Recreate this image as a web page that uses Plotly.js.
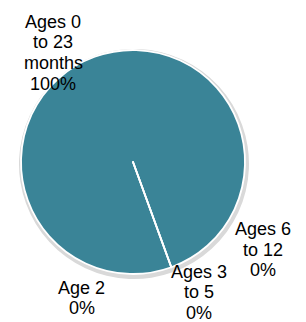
<!DOCTYPE html>
<html>
<head>
<meta charset="utf-8">
<script src="https://cdn.plot.ly/plotly-3.0.1.min.js"></script>
<style>html,body{margin:0;padding:0;background:#fff;}#chart{width:306px;height:322px;}</style>
</head>
<body>
<div id="chart"></div>
<script>
// Data
const categories = ['Ages 0 to 23 months', 'Age 2', 'Ages 3 to 5', 'Ages 6 to 12'];
const percentages = [100, 0, 0, 0];
const labelLines = [['Ages 0', 'to 23', 'months'], ['Age 2'], ['Ages 3', 'to 5'], ['Ages 6', 'to 12']];

// Layout (pixel positions of label blocks: x centre, first line centre)
const W = 306, H = 322;
const labelPos = [[53, 21.5], [81.7, 287.5], [199, 271.5], [262.5, 228.8]];
const lineStep = 20.8;
const teal = '#3A8497';

const annotations = [];
categories.forEach((c, i) => {
  const lines = labelLines[i].concat([percentages[i] + '%']);
  lines.forEach((t, k) => {
    annotations.push({
      xref: 'paper', yref: 'paper',
      x: labelPos[i][0] / W,
      y: 1 - (labelPos[i][1] + k * lineStep) / H,
      xanchor: 'center', yanchor: 'middle',
      text: t, showarrow: false,
      font: {family: 'Liberation Sans, Arial, sans-serif', size: 18, color: '#000'}
    });
  });
});

const shadow = {
  type: 'pie', labels: categories, values: percentages, sort: false,
  direction: 'clockwise', rotation: 160,
  marker: {colors: ['#d9d9d9', '#d9d9d9', '#d9d9d9', '#d9d9d9'], line: {width: 0}},
  textinfo: 'none', hoverinfo: 'skip', showlegend: false,
  domain: {x: [19 / W, 249 / W], y: [43 / H, 273 / H]}
};
const pie = {
  type: 'pie', labels: categories, values: percentages, sort: false,
  direction: 'clockwise', rotation: 160,
  marker: {colors: [teal, teal, teal, teal], line: {color: '#ffffff', width: 1.8}},
  textinfo: 'none', showlegend: false,
  domain: {x: [21 / W, 245 / W], y: [48 / H, 272 / H]}
};

Plotly.newPlot('chart', [shadow, pie], {
  width: W, height: H,
  margin: {l: 0, r: 0, t: 0, b: 0},
  paper_bgcolor: '#fff', plot_bgcolor: '#fff',
  showlegend: false,
  annotations: annotations
}, {displayModeBar: false, staticPlot: true});
</script>
</body>
</html>
